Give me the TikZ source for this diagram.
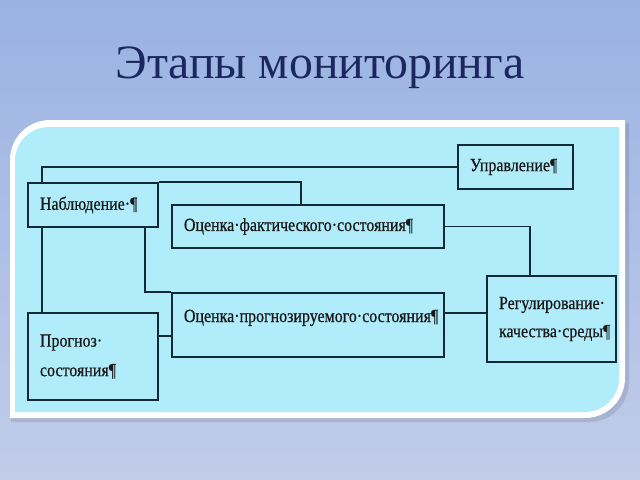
\documentclass[tikz,border=0pt]{standalone}
\usepackage{fontspec}
\setmainfont{Liberation Serif}
\newfontfamily\stagefont[FakeStretch=0.86,FakeBold=0.6]{Liberation Serif}
\definecolor{bgtop}{RGB}{154,178,226}
\definecolor{bgbot}{RGB}{193,204,233}
\definecolor{panelcyan}{RGB}{176,236,250}
\definecolor{titleblue}{RGB}{27,40,94}
\definecolor{wirecol}{RGB}{18,42,54}

\begin{document}
\begin{tikzpicture}[
                x=0.025cm,
                y=-0.025cm,
                stage/.style={
                    draw=wirecol,
                    line width=1.3pt,
                    fill=panelcyan,
                    inner xsep=0.3cm,
                    inner ysep=0pt,
                    align=left,
                    text=black!90,
                    font=\stagefont\fontsize{13.2}{15}\selectfont
                },
                link/.style={
                    wirecol,
                    line width=1.3pt
                },
                heading/.style={
                    text=titleblue,
                    font=\fontsize{34}{40}\selectfont
                }
            ]

                \useasboundingbox (0,0) rectangle (640,480);
                \shade[top color=bgtop, bottom color=bgbot] (0,0) rectangle (640,480);

                \node[heading] (title) at (320,68) {Этапы мониторинга};

                \fill[black, opacity=0.1] (11,422) [rounded corners=1cm] -- (11,123) [sharp corners] -- (629,123) [rounded corners=1cm] -- (629,422) [sharp corners] -- cycle;
                \fill[white] (10,418) [rounded corners=1cm] -- (10,120) [sharp corners] -- (625,120) [rounded corners=1cm] -- (625,418) [sharp corners] -- cycle;
                \fill[panelcyan] (15,412) [rounded corners=0.85cm] -- (15,127) [sharp corners] -- (619,127) [rounded corners=0.85cm] -- (619,412) [sharp corners] -- cycle;

                \node[stage, minimum width=3.25cm, minimum height=1.1cm, text width=2.65cm] (watch) at (93,205) {Наблюдение·¶};
                \node[stage, minimum width=2.875cm, minimum height=1.1cm, text width=2.275cm] (manage) at (515.5,167) {Управление¶};
                \node[stage, minimum width=6.8cm, minimum height=1.075cm, text width=6.2cm] (actual) at (308,226.5) {Оценка·фактического·состояния¶};
                \node[stage, minimum width=6.8cm, minimum height=1.6cm, text width=6.2cm] (expected) at (308,325) {Оценка·прогнозируемого·состояния¶\\[-2pt]\mbox{}};
                \node[stage, minimum width=3.25cm, minimum height=2.175cm, text width=2.65cm] (forecast) at (93,356.5) {Прогноз·\\[6pt]состояния¶};
                \node[stage, minimum width=3.225cm, minimum height=2.15cm, text width=2.625cm] (control) at (551.5,319) {Регулирование·\\[5pt]качества·среды¶};

                \draw[link] (watch.north west) ++(15,0) |- (manage.west);
                \draw[link] (watch.north east) -| (actual.north -| 301,0);
                \draw[link] (watch.south east) ++(-14,0) |- (expected.north west);
                \draw[link] (watch.south west) ++(15,0) coordinate (drop) -- (drop |- forecast.north);
                \draw[link] (forecast.east |- 0,336) -- (expected.west |- 0,336);
                \draw[link] (expected.east |- 0,313) -- (control.west |- 0,313);
                \draw[link] (actual.east) -| (control.north -| 530,0);

            \end{tikzpicture}
\end{document}
